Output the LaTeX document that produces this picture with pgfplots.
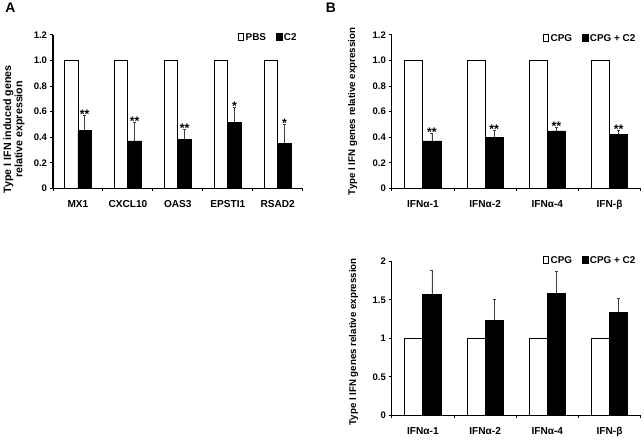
\documentclass[border=0pt]{standalone}
\usepackage{fontspec}
\setmainfont{Liberation Sans}
\usepackage{pgfplots}
\pgfplotsset{compat=1.18}
\usepackage{pgfplotstable}

\pgfplotstableread{
x pbs c2 err
0 1 0.454 0.120
1 1 0.371 0.143
2 1 0.384 0.078
3 1 0.519 0.117
4 1 0.353 0.146
}\dataA

\pgfplotstableread{
x cpg c2 err
0 1 0.371 0.060
1 1 0.397 0.060
2 1 0.449 0.026
3 1 0.423 0.031
}\dataB

\pgfplotstableread{
x cpg c2 err
0 1 1.574 0.315
1 1 1.237 0.272
2 1 1.583 0.293
3 1 1.341 0.181
}\dataC

\tikzset{astr/.style={font=\bfseries\fontsize{12.5}{13}\selectfont, anchor=base, inner sep=0pt, yshift=-3.2bp}}

\pgfplotsset{
 mybar/.style={
  scale only axis,
  axis lines=left,
  axis line style={-, line width=1.1bp},
  ybar=0pt,
  ymin=0,
  tick align=outside,
  major tick length=2.5bp,
  tick style={line width=0.9bp, black},
  /pgf/number format/assume math mode=true,
  ticklabel style={font=\bfseries\fontsize{9.6}{10}\selectfont},
  xticklabels={},
  extra x tick style={major tick length=0pt, tick style={draw=none}, xticklabel style={yshift=-8.5bp, font=\bfseries\fontsize{10.2}{11}\selectfont}},
  legend style={draw=none, fill=none, inner sep=0pt, font=\bfseries\fontsize{10}{11}\selectfont, nodes={inner sep=1.2bp}, /tikz/every even column/.append style={column sep=9bp}},
  legend columns=2,
  legend image code/.code={\draw[#1, line width=1bp] (0bp,-3.5bp) rectangle (5.5bp,3.5bp);},
  legend cell align=left,
  clip=false,
 },
 whitebar/.style={draw=black, fill=white, line width=0.9bp},
 blackbar/.style={draw=black, fill=black, line width=0.9bp,
   error bars/.cd, y dir=plus, y explicit,
   error bar style={line width=0.6bp, black!75},
   error mark options={rotate=90, mark size=1.5bp, line width=0.6bp, black!75}},
}

\begin{document}
\begin{tikzpicture}
\path (0,0) rectangle (644bp,440bp);
\node[font=\bfseries\fontsize{14}{16}\selectfont] at (10bp,432bp) {A};
\node[font=\bfseries\fontsize{14}{16}\selectfont] at (332bp,432bp) {B};

% Panel A
\begin{axis}[mybar, at={(52.7bp,250.7bp)}, anchor=south west,
  width=251bp, height=154.3bp,
  xmin=-0.5, xmax=4.5, ymax=1.2,
  bar width=0.27,
  xtick={-0.5,0.5,1.5,2.5,3.5,4.5},
  extra x ticks={0,1,2,3,4},
  extra x tick labels={MX1,CXCL10,OAS3,EPSTI1,RSAD2},
  ytick={0,0.2,0.4,0.6,0.8,1.0,1.2},
  yticklabels={0,0.2,0.4,0.6,0.8,1.0,1.2},
  legend style={at={(0.981,0.984)}, anchor=east},
]
\addplot[whitebar] table[x=x, y=pbs] {\dataA};
\addplot[blackbar] table[x=x, y=c2, y error=err] {\dataA};
\legend{PBS, C2}
\node[astr] at (axis cs:0.135,0.574) {**};
\node[astr] at (axis cs:1.135,0.514) {**};
\node[astr] at (axis cs:2.135,0.462) {**};
\node[astr] at (axis cs:3.135,0.636) {*};
\node[astr] at (axis cs:4.135,0.499) {*};
\end{axis}
\node[rotate=90, align=center, font=\bfseries\fontsize{10.8}{11.5}\selectfont] at (13.5bp,310bp) {Type I IFN induced genes\\relative expression};

% Panel B top
\begin{axis}[mybar, at={(393.3bp,250.7bp)}, anchor=south west,
  width=250.2bp, height=154.3bp,
  xmin=-0.5, xmax=3.5, ymax=1.2,
  bar width=0.29,
  xtick={-0.5,0.5,1.5,2.5,3.5},
  extra x ticks={0,1,2,3},
  extra x tick labels={IFNα-1,IFNα-2,IFNα-4,IFN-β},
  ytick={0,0.2,0.4,0.6,0.8,1.0,1.2},
  yticklabels={0,0.2,0.4,0.6,0.8,1.0,1.2},
  legend style={at={(0.984,0.977)}, anchor=east},
]
\addplot[whitebar] table[x=x, y=cpg] {\dataB};
\addplot[blackbar] table[x=x, y=c2, y error=err] {\dataB};
\legend{CPG, CPG + C2}
\node[astr] at (axis cs:0.145,0.431) {**};
\node[astr] at (axis cs:1.145,0.457) {**};
\node[astr] at (axis cs:2.145,0.475) {**};
\node[astr] at (axis cs:3.145,0.454) {**};
\end{axis}
\node[rotate=90, font=\bfseries\fontsize{9.8}{11}\selectfont] at (354bp,328bp) {Type I IFN genes relative expression};

% Panel B bottom
\begin{axis}[mybar, at={(393.3bp,22.5bp)}, anchor=south west,
  width=250.2bp, height=155bp,
  xmin=-0.5, xmax=3.5, ymax=2,
  bar width=0.29,
  xtick={-0.5,0.5,1.5,2.5,3.5},
  extra x ticks={0,1,2,3},
  extra x tick labels={IFNα-1,IFNα-2,IFNα-4,IFN-β},
  ytick={0,0.5,1,1.5,2},
  yticklabels={0,0.5,1,1.5,2},
  legend style={at={(0.984,1.005)}, anchor=east},
]
\addplot[whitebar] table[x=x, y=cpg] {\dataC};
\addplot[blackbar] table[x=x, y=c2, y error=err] {\dataC};
\legend{CPG, CPG + C2}
\end{axis}
\node[rotate=90, font=\bfseries\fontsize{9.8}{11}\selectfont] at (355bp,96.5bp) {Type I IFN genes relative expression};
\end{tikzpicture}
\end{document}
